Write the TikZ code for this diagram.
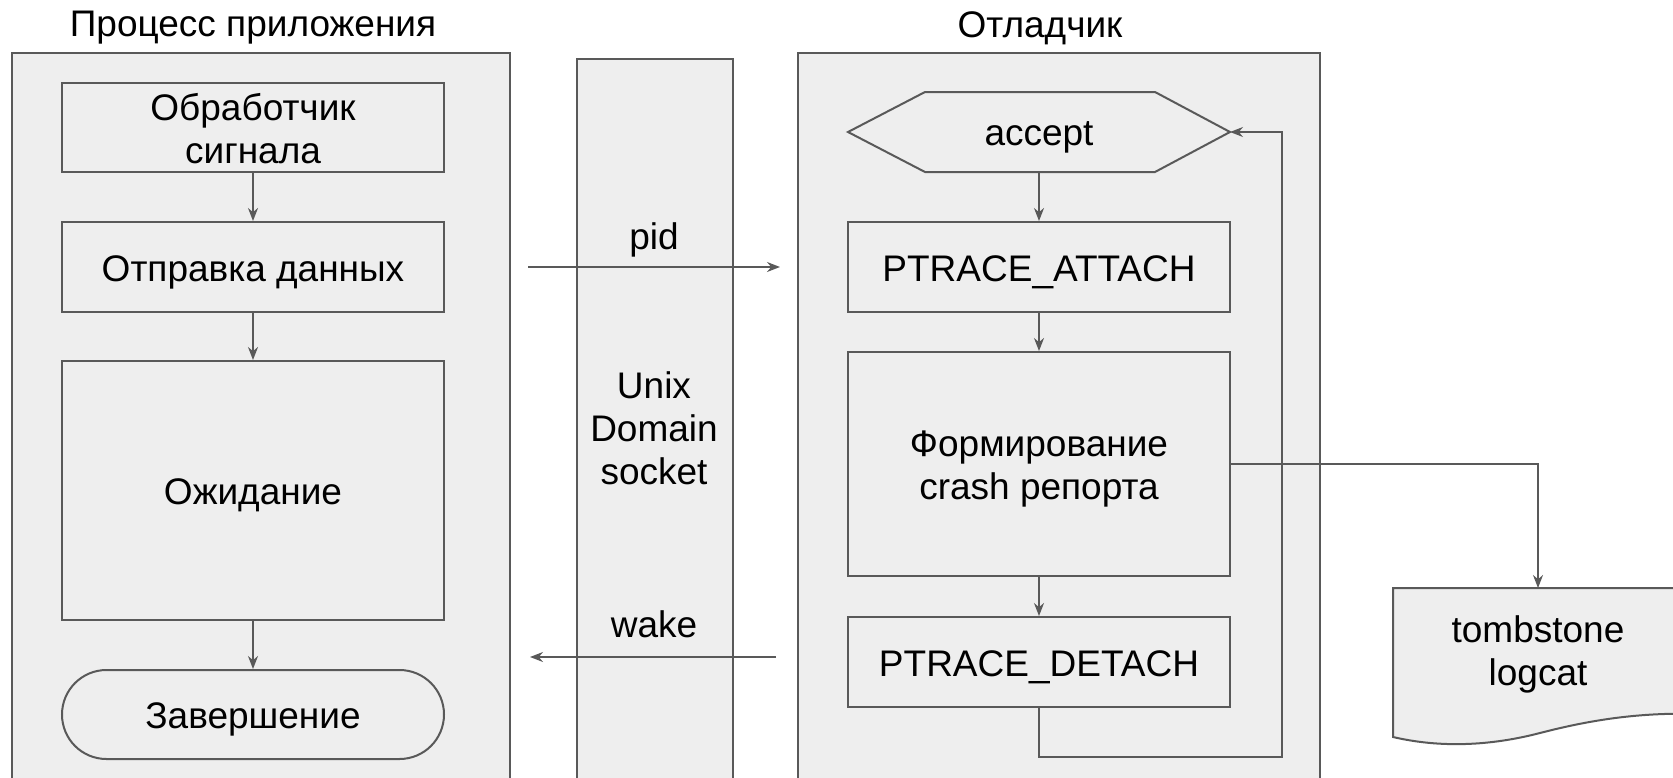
\documentclass[tikz,border=0pt]{standalone}
\usepackage{fontspec}
\setmainfont{Liberation Sans}
\usetikzlibrary{arrows.meta,shapes.misc}
\definecolor{boxfill}{HTML}{EEEEEE}
\definecolor{boxline}{HTML}{595959}
\begin{document}
\begin{tikzpicture}[x=1pt,y=-1pt,
  every node/.style={font=\fontsize{37}{43}\selectfont, align=center, inner sep=0pt},
  txt/.style={yshift=-5pt},
  txtm/.style={yshift=-1pt},
  frame/.style={draw=boxline, fill=boxfill, line width=2pt},
  stepbox/.style={frame, rectangle, minimum width=382pt},
  conn/.style={draw=boxline, line width=1.6pt, -{Stealth[length=13pt,width=10pt]}},
  plain/.style={draw=boxline, line width=1.6pt}]
\useasboundingbox (0,0) rectangle (1673,777);
\clip (0,0) rectangle (1673,777);
% containers
\draw[frame] (12,53) rectangle (510,800);
\draw[frame] (577,59) rectangle (733,800);
\draw[frame] (798,53) rectangle (1320,800);
\node[txt] (t1) at (253,23) {Процесс приложения};
\node[txt] (t2) at (1040,23) {Отладчик};
% left column
\node[stepbox, minimum height=89pt, label={[txtm]center:{Обработчик\\сигнала}}] (h1) at (253,127.5) {};
\node[stepbox, minimum height=90pt, label={[txt]center:{Отправка данных}}] (h2) at (253,267) {};
\node[stepbox, minimum height=259pt, label={[txt]center:{Ожидание}}] (h3) at (253,490.5) {};
\node[frame, rounded rectangle, minimum width=382pt, minimum height=89pt, label={[txt]center:{Завершение}}] (h4) at (253,714.5) {};
\draw[conn] (h1.south) -- (h2.north);
\draw[conn] (h2.south) -- (h3.north);
\draw[conn] (h3.south) -- (h4.north);
% socket
\node[txtm] (sock) at (654,427) {Unix\\Domain\\socket};
\node[txt] (pid) at (654,235) {pid};
\node[txt] (wake) at (654,619) {wake};
\coordinate (pidA) at (528,267);
\coordinate (pidB) at (780,267);
\coordinate (wakeA) at (776,657);
\coordinate (wakeB) at (530,657);
\draw[conn] (pidA) -- (pidB);
\draw[conn] (wakeA) -- (wakeB);
% right column
\draw[frame] (848,132) -- (925,92) -- (1155,92) -- (1230,132) -- (1155,172) -- (925,172) -- cycle;
\node[txt] (acc) at (1039,132) {accept};
\coordinate (accS) at (1039,172);
\coordinate (accE) at (1230,132);
\node[stepbox, minimum height=90pt, label={[txt]center:{PTRACE\_ATTACH}}] (r1) at (1039,267) {};
\node[stepbox, minimum height=224pt, label={[txt]center:{Формирование\\crash репорта}}] (r2) at (1039,464) {};
\node[stepbox, minimum height=90pt, label={[txt]center:{PTRACE\_DETACH}}] (r3) at (1039,662) {};
\draw[conn] (accS) -- (r1.north);
\draw[conn] (r1.south) -- (r2.north);
\draw[conn] (r2.south) -- (r3.north);
\coordinate (loopA) at (1039,757);
\coordinate (loopB) at (1282,757);
\coordinate (loopC) at (1282,132);
\draw[conn] (r3.south) -- (loopA) -- (loopB) -- (loopC) -- (accE);
% document
\draw[frame] (1393,588) -- (1700,588) -- (1700,714)
  .. controls (1640,712) and (1590,720) .. (1540,733)
  .. controls (1490,746) and (1440,748) .. (1393,737) -- cycle;
\coordinate (doctop) at (1538,588);
\node[txtm] (doc) at (1538,653) {tombstone\\logcat};
\draw[conn] (r2.east) -| (doctop);
\end{tikzpicture}
\end{document}
